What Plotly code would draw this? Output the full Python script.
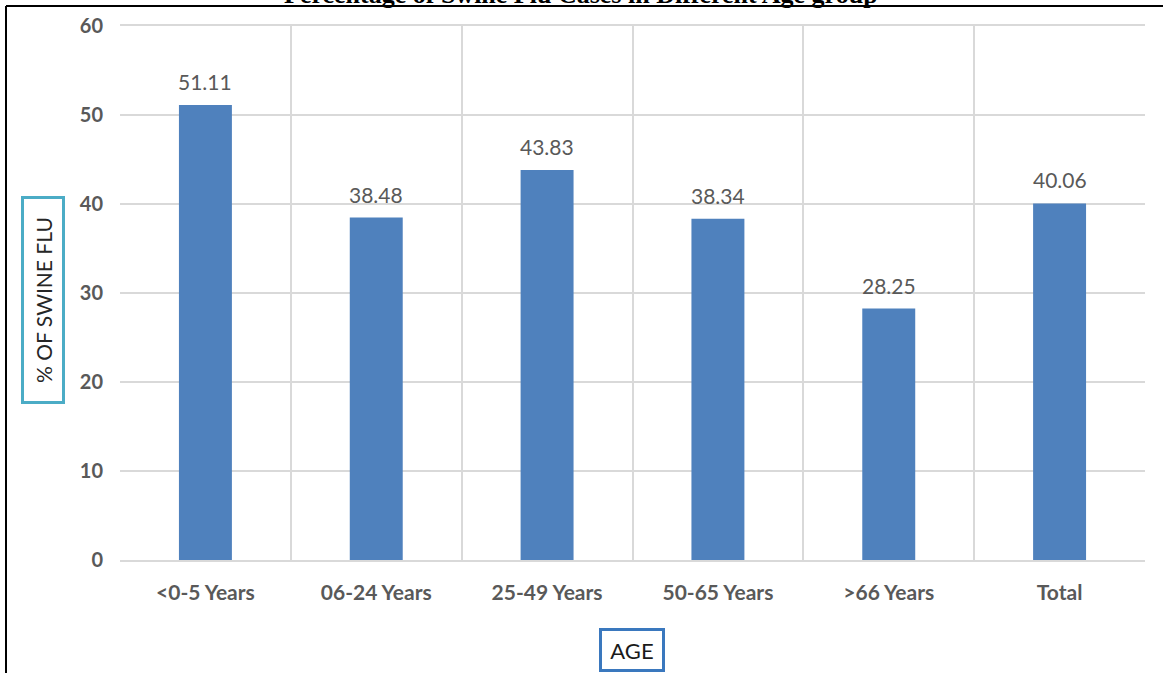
import plotly.graph_objects as go

categories = ["<0-5 Years", "06-24 Years", "25-49 Years", "50-65 Years", ">66 Years", "Total"]
values = [51.11, 38.48, 43.83, 38.34, 28.25, 40.06]
value_labels = ["51.11", "38.48", "43.83", "38.34", "28.25", "40.06"]
y_ticks = [0, 10, 20, 30, 40, 50, 60]

title_text = "Percentage of Swine Flu Cases in Different Age group"
y_title = "% OF SWINE FLU"
x_title = "AGE"

W, H = 1163, 673
ML, MR, MT, MB = 120, 18, 26, 113
PW, PH = W - ML - MR, H - MT - MB

def px_x(p):
    return (p - ML) / PW

def px_y(p):
    return (H - MB - p) / PH

fig = go.Figure()
fig.add_trace(go.Bar(
    x=categories, y=values,
    marker=dict(color="#4F81BD", line=dict(width=0)),
    hoverinfo="skip",
))

annotations = []
for c, v, t in zip(categories, values, value_labels):
    annotations.append(dict(
        x=c, y=v, xref="x", yref="y", text=t, showarrow=False,
        yanchor="bottom", yshift=9,
        font=dict(family="Lato", size=21, color="#595959"),
    ))

# clipped title at very top
annotations.append(dict(
    x=px_x(581), y=1, xref="paper", yref="paper", text="<b>" + title_text + "</b>",
    showarrow=False, yanchor="bottom", yshift=15,
    font=dict(family="Liberation Serif", size=26, color="#000000"),
))
# y axis title box
annotations.append(dict(
    x=px_x(43), y=px_y(300), xref="paper", yref="paper", text=y_title,
    showarrow=False, textangle=-90, xanchor="center", yanchor="middle",
    font=dict(family="Lato", size=21, color="#262626"),
    bordercolor="#4BACC6", borderwidth=3, borderpad=4,
    width=194, height=30,
))
# x axis title box
annotations.append(dict(
    x=px_x(632), y=px_y(650), xref="paper", yref="paper", text=x_title,
    showarrow=False, xanchor="center", yanchor="middle",
    font=dict(family="Lato", size=22, color="#1a1a1a"),
    bordercolor="#3A78BE", borderwidth=3, borderpad=4,
    width=52, height=30,
))

shapes = [
    dict(type="line", xref="paper", yref="paper",
         x0=px_x(6), x1=px_x(1170), y0=px_y(6), y1=px_y(6),
         line=dict(color="#000000", width=2)),
    dict(type="line", xref="paper", yref="paper",
         x0=px_x(6), x1=px_x(6), y0=px_y(6), y1=px_y(680),
         line=dict(color="#000000", width=2)),
]

fig.update_layout(
    width=W, height=H,
    margin=dict(l=ML, r=MR, t=MT, b=MB, pad=0),
    paper_bgcolor="white", plot_bgcolor="white",
    showlegend=False,
    bargap=0.69,
    annotations=annotations,
    shapes=shapes,
    xaxis=dict(
        type="category", tickson="boundaries", showgrid=True,
        gridcolor="#D9D9D9", gridwidth=2, ticks="",
        showline=True, linecolor="#D9D9D9", linewidth=2, mirror=True,
        tickfont=dict(family="Lato", size=21, color="#595959", weight="bold"),
        ticklabelstandoff=13,
        fixedrange=True,
    ),
    yaxis=dict(
        range=[0, 60], tickvals=y_ticks, showgrid=True,
        gridcolor="#D9D9D9", gridwidth=2, zeroline=False, ticks="",
        showline=False,
        tickfont=dict(family="Lato", size=20, color="#595959", weight="bold"),
        ticklabelstandoff=16,
        fixedrange=True,
    ),
)

fig.write_html("out.html", config={"displayModeBar": False})
